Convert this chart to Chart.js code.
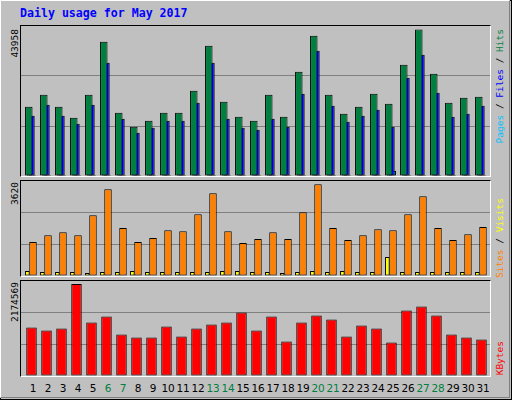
<!DOCTYPE html>
<html><head><meta charset="utf-8">
<script src="https://cdn.jsdelivr.net/npm/chart.js@4/dist/chart.umd.min.js"></script>
<style>
body{margin:0;width:512px;height:400px;overflow:hidden;background:#c0c0c0;}
#outer{position:absolute;left:0;top:0;width:510px;height:398px;border:1px solid #000;}
#inner{position:absolute;left:0;top:0;width:508px;height:396px;border-left:1px solid #fff;border-top:1px solid #fff;border-right:1px solid #808080;border-bottom:1px solid #808080;}
.panel{position:absolute;left:20px;width:469px;border-top:1px solid #000;border-left:1px solid #000;border-right:1px solid #fff;border-bottom:1px solid #fff;}
canvas{display:block;}
.t{position:absolute;font-family:"DejaVu Sans Mono",monospace;}
.v{position:absolute;writing-mode:vertical-rl;transform:rotate(180deg);font-family:"DejaVu Sans Mono",monospace;font-size:9.5px;white-space:nowrap;}
.xl{position:absolute;top:382px;width:20px;text-align:center;font-family:"DejaVu Sans",sans-serif;font-size:10.5px;letter-spacing:-0.3px;}
</style></head><body>
<div id="outer"></div><div id="inner"></div>
<div class="t" style="left:20px;top:6px;font-size:11.6px;font-weight:bold;color:#0000ff;">Daily usage for May 2017</div>
<div class="panel" style="top:25px;height:150px;"><canvas id="c1" width="469" height="150"></canvas></div>
<div class="panel" style="top:180px;height:95px;"><canvas id="c2" width="469" height="95"></canvas></div>
<div class="panel" style="top:280px;height:95px;"><canvas id="c3" width="469" height="95"></canvas></div>
<div class="v" style="left:9px;top:29px;">43958</div>
<div class="v" style="left:9px;top:182px;">3620</div>
<div class="v" style="left:9px;top:282px;">2174569</div>
<div class="v" style="left:494px;top:29px;"><span style="color:#00c0ff">Pages</span> / <span style="color:#0000ff">Files</span> / <span style="color:#008040">Hits</span></div>
<div class="v" style="left:494px;top:198px;"><span style="color:#ff8000">Sites</span> / <span style="color:#ffff00">Visits</span></div>
<div class="v" style="left:494px;top:341px;color:#ff0000;">KBytes</div>
<div id="xlabels"></div>
<script>
const days = Array.from({length:31},(_,i)=>i+1);
const weekends = [6,7,13,14,20,21,27,28];
const hits = [20800,24400,20800,17500,24400,40300,19000,14800,16600,19000,19000,25600,39100,22300,17800,16600,24400,17800,31300,42100,24400,18700,20800,24700,21700,33400,43958,30700,22000,23500,23800];
const files = [18100,21400,18100,15700,21400,34000,17200,13000,14500,16600,16600,22000,34000,17200,14500,13900,17200,14800,24700,37600,21100,16300,18100,19900,14800,29500,36400,25000,17800,18700,21100];
const pages = [300,300,300,300,300,300,300,300,300,300,300,300,300,300,300,300,300,300,300,300,300,300,300,300,1600,300,300,300,300,300,300];
const visits = [1340,1610,1730,1610,2400,3420,1890,1340,1500,1810,1770,2440,3270,1770,1300,1460,1730,1460,2520,3620,1890,1420,1610,1850,1810,2440,3150,1890,1420,1650,1930];
const sites = [200,160,160,160,120,160,160,200,160,160,160,160,160,200,200,160,160,120,160,200,160,200,160,160,750,160,160,160,160,160,160];
const kbytes = [1146500,1075400,1122800,2174569,1265100,1407400,980500,909300,909300,1170200,933000,1122800,1217700,1265100,1502300,1075400,1407400,814400,1265100,1431200,1336300,933000,1193900,1122800,790700,1549800,1644700,1431200,980500,909300,861900];

const XMIN=0.48, XMAX=31.747, STEP=15;
function xAxis(shift){return {type:'linear',display:false,offset:false,bounds:'ticks',min:XMIN-shift,max:XMAX-shift};}
function ds(data,color,axis,width){
  return {data:days.map((d,i)=>({x:d,y:data[i]})),backgroundColor:color,borderColor:'#000',borderWidth:1,borderSkipped:false,
    xAxisID:axis,grouped:false,categoryPercentage:1,barPercentage:width/STEP};
}
function make(id,datasets,axes,ymax){
  const scales={...axes,y:{min:0,max:ymax,display:true,ticks:{display:false,stepSize:ymax/3},
    grid:{drawTicks:false,color:c=>(c.index===1||c.index===2)?'#808080':'rgba(0,0,0,0)',lineWidth:1},border:{display:false}}};
  new Chart(document.getElementById(id),{type:'bar',data:{datasets},
    options:{responsive:false,animation:false,devicePixelRatio:1,layout:{padding:0},
      plugins:{legend:{display:false},tooltip:{enabled:false}},scales}});
}
make('c1',[ds(hits,'#008040','xh',7.5),ds(files,'#0000ff','xf',8),ds(pages,'#00c0ff','xp',7.5)],
  {xh:xAxis(0),xf:xAxis(0.127),xp:xAxis(0.233)},45040);
make('c2',[ds(sites,'#ffff00','xs',4.5),ds(visits,'#ff8000','xv',7.5)],
  {xs:xAxis(-0.1),xv:xAxis(0.28)},3750);
make('c3',[ds(kbytes,'#ff0000','xk',10.5)],{xk:xAxis(0.18)},2245500);

const xl=document.getElementById('xlabels');
days.forEach((d,i)=>{const s=document.createElement('div');s.className='xl';s.textContent=d;
  s.style.left=(23+STEP*i)+'px';s.style.color=weekends.includes(d)?'#008040':'#000';xl.appendChild(s);});
</script>
</body></html>
